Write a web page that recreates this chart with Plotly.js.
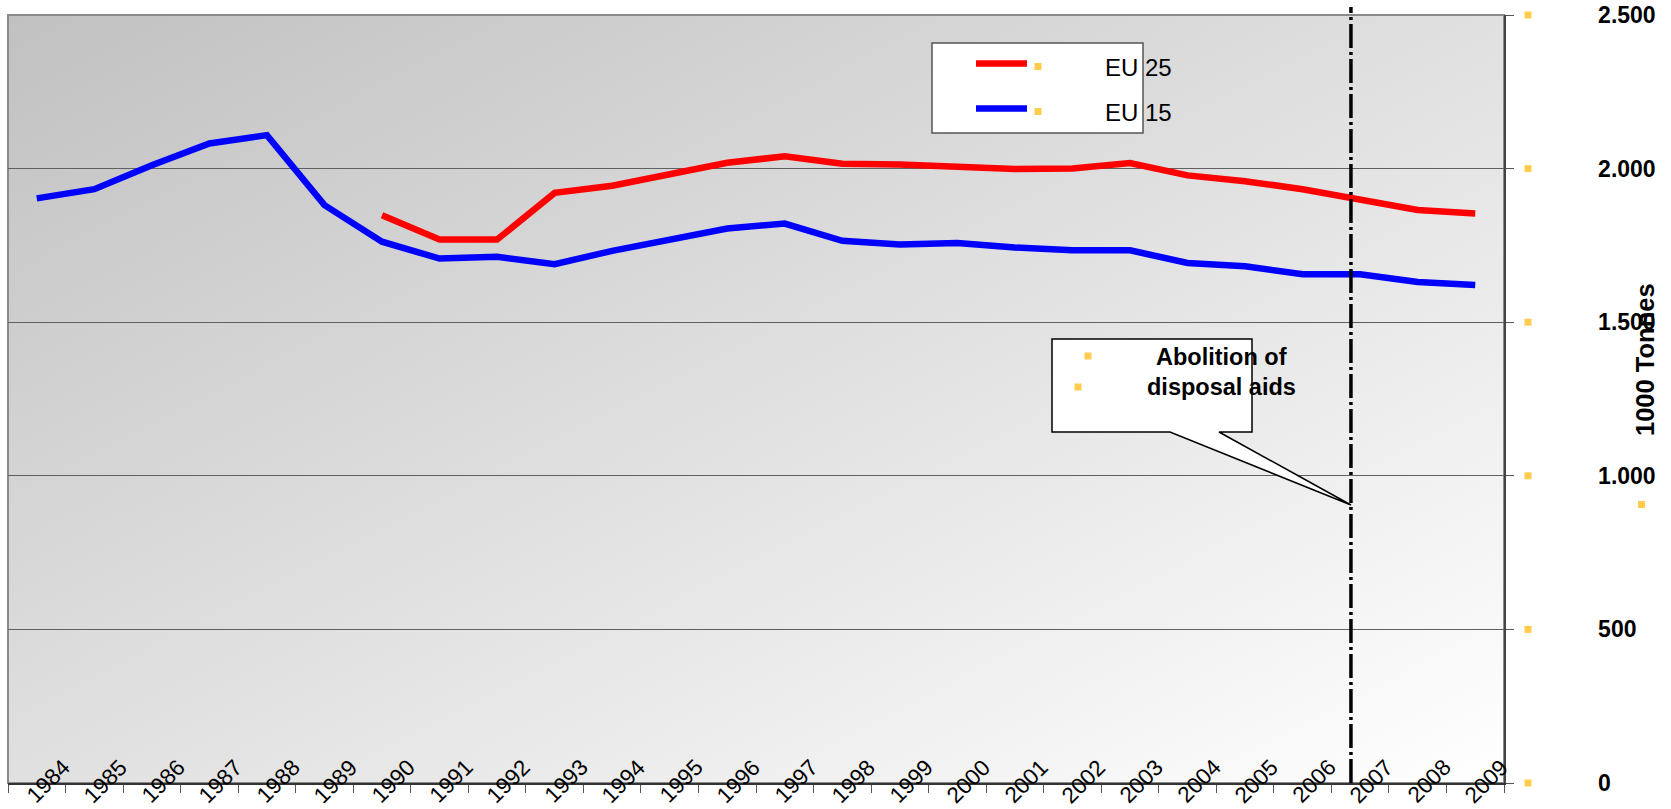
<!DOCTYPE html>
<html>
<head>
<meta charset="utf-8">
<script src="https://cdn.plot.ly/plotly-3.0.1.min.js"></script>
<style>html,body{margin:0;padding:0;background:#fff;}#chart{width:1671px;height:809px;}</style>
</head>
<body>
<div id="chart"></div>
<script>
// ---- data ----
const years = [1984,1985,1986,1987,1988,1989,1990,1991,1992,1993,1994,1995,1996,1997,1998,1999,2000,2001,2002,2003,2004,2005,2006,2007,2008,2009];
const eu15 = [1903,1933,2011,2082,2109,1881,1762,1707,1713,1689,1732,1769,1805,1821,1765,1753,1758,1743,1734,1734,1693,1682,1656,1656,1631,1621];
const eu25Years = [1990,1991,1992,1993,1994,1995,1996,1997,1998,1999,2000,2001,2002,2003,2004,2005,2006,2007,2008,2009];
const eu25 = [1848,1769,1769,1921,1944,1984,2019,2040,2016,2013,2006,1999,2000,2018,1978,1959,1933,1897,1865,1854];
const yTickVals = [0,500,1000,1500,2000,2500];
const yTickText = ['0','500','1.000','1.500','2.000','2.500'];
const seriesNames = ['EU 25','EU 15'];
const seriesColors = ['#ff0000','#0000ff'];
const yTitle = '1000 Tonnes';
const calloutLines = ['Abolition of','disposal aids'];
const markerYear = 2006.84;

// ---- geometry helpers (pixel -> paper) ----
const ML=8, MR=167, MT=15, MB=26, W=1671, H=809;
const PW=W-ML-MR, PH=H-MT-MB;
const fx = x => (x-ML)/PW;
const fy = y => (H-MB-y)/PH;
const gold = '#ffcc4d';
const FONT = 'Liberation Sans, Arial, sans-serif';
const yMax = 2500;

const traces = [
  {x: eu25Years, y: eu25, name: seriesNames[0], type:'scatter', mode:'lines',
   line:{color:seriesColors[0], width:6.5}, hoverinfo:'x+y'},
  {x: years, y: eu15, name: seriesNames[1], type:'scatter', mode:'lines',
   line:{color:seriesColors[1], width:6.5}, hoverinfo:'x+y'}
];

const bounds = years.map(y => y-0.5).concat([years[years.length-1]+0.5]);

const shapes = [];
const annotations = [];

// plot frame
shapes.push({type:'rect', xref:'paper', yref:'paper', x0:0, x1:1, y0:0, y1:1,
  line:{color:'#8a8a8a', width:2}, fillcolor:'rgba(0,0,0,0)', layer:'below'});

// legend box
shapes.push({type:'rect', xref:'paper', yref:'paper', x0:fx(932), x1:fx(1143), y0:fy(133), y1:fy(43),
  line:{color:'#555', width:1.5}, fillcolor:'#ffffff'});
const legY = [63.5, 108.5];
legY.forEach((yy,i) => {
  shapes.push({type:'line', xref:'paper', yref:'paper', x0:fx(976), x1:fx(1027), y0:fy(yy), y1:fy(yy),
    line:{color:seriesColors[i], width:6.5}});
  shapes.push({type:'rect', xref:'paper', yref:'paper', x0:fx(1034.5), x1:fx(1041.5), y0:fy(yy+6.5), y1:fy(yy-0.5),
    line:{width:0}, fillcolor:gold});
  annotations.push({xref:'paper', yref:'paper', x:fx(1103), y:fy(yy+4), text:seriesNames[i], showarrow:false,
    xanchor:'left', yanchor:'middle', font:{family:FONT, size:24, color:'#000'}});
});

// callout
const pts = [[1052,339],[1252,339],[1252,432],[1219,432],[1351,505],[1170,432],[1052,432]];
const path = 'M ' + pts.map(p => fx(p[0]) + ',' + fy(p[1])).join(' L ') + ' Z';
shapes.push({type:'path', xref:'paper', yref:'paper', path:path, line:{color:'#000', width:1.5}, fillcolor:'#ffffff'});
[356.5, 386.5].forEach((yy,i) => {
  annotations.push({xref:'paper', yref:'paper', x:fx(1221), y:fy(yy), text:'<b>'+calloutLines[i]+'</b>', showarrow:false,
    xanchor:'center', yanchor:'middle', font:{family:FONT, size:23.5, color:'#000'}});
});
[[1088,356],[1078,387]].forEach(p => {
  shapes.push({type:'rect', xref:'paper', yref:'paper', x0:fx(p[0]-3.5), x1:fx(p[0]+3.5), y0:fy(p[1]+3.5), y1:fy(p[1]-3.5),
    line:{width:0}, fillcolor:gold});
});

// vertical dash-dot marker
shapes.push({type:'line', xref:'x', yref:'paper', x0:markerYear, x1:markerYear, y0:0, y1:fy(7),
  line:{color:'#000', width:3.5, dash:'24px,4px,3px,4px'}});

// yellow squares near right tick labels
yTickVals.forEach(v => {
  const c = v / yMax;
  shapes.push({type:'rect', xref:'paper', yref:'paper', x0:fx(1524.5), x1:fx(1531.5),
    y0:c - 3.5/PH, y1:c + 3.5/PH, line:{width:0}, fillcolor:gold});
});
shapes.push({type:'rect', xref:'paper', yref:'paper', x0:fx(1638), x1:fx(1645), y0:fy(508), y1:fy(501),
  line:{width:0}, fillcolor:gold});

// x tick labels (rotated, straddling the axis)
years.forEach(yr => {
  annotations.push({xref:'x', yref:'y', x:yr, y:0, text:String(yr), showarrow:false, textangle:-45,
    xanchor:'center', yanchor:'middle', xshift:11, yshift:2,
    font:{family:FONT, size:22.5, color:'#000'}});
});

// y axis title
annotations.push({xref:'paper', yref:'paper', x:fx(1645), y:fy(360), text:'<b>'+yTitle+'</b>', showarrow:false,
  textangle:-90, xanchor:'center', yanchor:'middle',
  font:{family:FONT, size:25.5, color:'#000'}});

// gradient background image
const svg = "<svg xmlns='http://www.w3.org/2000/svg' width='200' height='100' viewBox='0 0 200 100' preserveAspectRatio='none'>" +
  "<defs><linearGradient id='g' x1='0' y1='0' x2='1' y2='1'><stop offset='0' stop-color='#c1c1c1'/>" +
  "<stop offset='1' stop-color='#ffffff'/></linearGradient></defs><rect width='200' height='100' fill='url(#g)'/></svg>";

const layout = {
  width:W, height:H,
  margin:{l:ML, r:MR, t:MT, b:MB, autoexpand:false},
  paper_bgcolor:'#ffffff', plot_bgcolor:'#ffffff',
  showlegend:false,
  font:{family:FONT, color:'#000'},
  images:[{source:'data:image/svg+xml;base64,' + btoa(svg), xref:'paper', yref:'paper',
    x:0, y:1, sizex:1, sizey:1, sizing:'stretch', xanchor:'left', yanchor:'top', layer:'below'}],
  xaxis:{type:'linear', range:[years[0]-0.5, years[years.length-1]+0.5], tickmode:'array', tickvals:bounds,
    showticklabels:false, ticks:'outside', ticklen:8, tickwidth:1, tickcolor:'#555',
    showgrid:false, zeroline:false, showline:true, linecolor:'#333', linewidth:1.5, fixedrange:true},
  yaxis:{side:'right', range:[0,yMax], tickmode:'array', tickvals:yTickVals, ticktext:yTickText,
    ticks:'outside', ticklen:8, tickwidth:1, tickcolor:'#555', ticklabelstandoff:80,
    tickfont:{family:FONT, size:23, weight:'bold', color:'#000'},
    showgrid:true, gridcolor:'#606060', gridwidth:1, zeroline:false,
    showline:true, linecolor:'#444', linewidth:1.5, fixedrange:true},
  shapes:shapes,
  annotations:annotations
};

Plotly.newPlot('chart', traces, layout, {staticPlot:true, displayModeBar:false});
</script>
</body>
</html>
